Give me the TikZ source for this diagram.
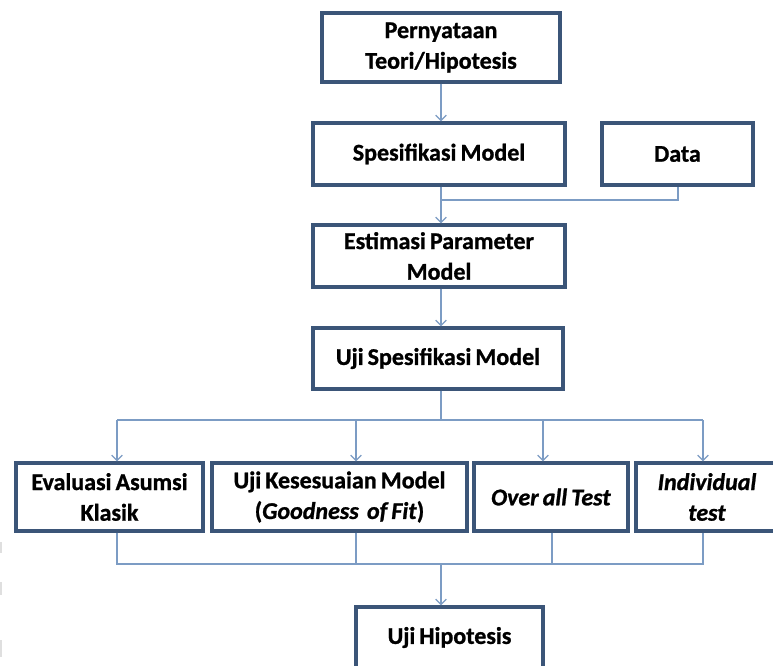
\documentclass[tikz,border=0pt]{standalone}
\usepackage{fontspec}
\setmainfont[WordSpace=0.75,BoldFeatures={FakeBold=1},BoldItalicFeatures={FakeBold=1}]{Carlito}
\usetikzlibrary{arrows.meta}
\definecolor{boxline}{HTML}{3B5578}
\definecolor{connc}{HTML}{7C9CC4}
\begin{document}
\begin{tikzpicture}[x=0.75pt,y=-0.75pt,
  box/.style={draw=boxline, line width=2.4pt, fill=white, align=center,
    font=\fontsize{18}{23}\selectfont\bfseries, inner sep=0pt},
  conn/.style={draw=connc, line width=1pt},
  arr/.style={conn, -{Straight Barb[length=4pt,width=8pt]}}]
\useasboundingbox (0,0) rectangle (773,666);
\fill[white] (0,0) rectangle (773,666);
\clip (0,0) rectangle (773,666);
% faint marks on left edge
\fill[gray!25] (0,542) rectangle (2,553);
\fill[gray!25] (0,582) rectangle (2,595);
\fill[gray!25] (0,640) rectangle (2,657);
% boxes
\node[box, minimum width=178.5pt, minimum height=51.75pt] (p1) at (441,47.5) {Pernyataan\\Teori/Hipotesis};
\node[box, minimum width=189pt, minimum height=46.5pt] (spec) at (439,154) {Spesifikasi Model};
\node[box, minimum width=113.25pt, minimum height=46.5pt] (data) at (677.5,154) {Data};
\node[box, minimum width=189pt, minimum height=46.5pt] (est) at (439,256) {Estimasi Parameter\\Model};
\node[box, minimum width=187.5pt, minimum height=45.75pt] (ujis) at (438,358.5) {Uji Spesifikasi Model};
\node[box, minimum width=140.25pt, minimum height=51pt] (eval) at (109.5,497) {Evaluasi Asumsi\\Klasik};
\node[box, minimum width=191.25pt, minimum height=51pt] (kes) at (339.5,497) {Uji Kesesuaian Model\\(\textit{Goodness}\ \ \textit{of Fit})};
\node[box, minimum width=115.5pt, minimum height=51pt] (over) at (551,497) {\textit{Over all Test}};
\node[box, minimum width=106.5pt, minimum height=51pt] (indiv) at (707,497) {\textit{Individual}\\\textit{test}};
\node[box, minimum width=140.25pt, minimum height=45.75pt] (hip) at (449.5,637.5) {Uji Hipotesis};
% junction points
\coordinate (j1) at (441,200);
\coordinate (j1r) at (678,200);
\coordinate (j2) at (441,420);
\coordinate (j2l) at (117,420);
\coordinate (j2k) at (356,420);
\coordinate (j2o) at (543,420);
\coordinate (j2r) at (703,420);
\coordinate (j3) at (441,564);
\coordinate (j3l) at (117,564);
\coordinate (j3k) at (356,564);
\coordinate (j3o) at (552,564);
\coordinate (j3r) at (703,564);
% connectors
\draw[arr] (p1.south) -- (spec.north -| p1.south);
\draw[conn] (spec.south -| j1) -- (j1) -- (j1r) -- (data.south -| j1r);
\draw[arr] (j1) -- (est.north -| j1);
\draw[arr] (est.south -| j1) -- (ujis.north -| j1);
\draw[conn] (ujis.south -| j2) -- (j2);
\draw[conn] (j2l) -- (j2r);
\draw[arr] (j2l) -- (eval.north -| j2l);
\draw[arr] (j2k) -- (kes.north -| j2k);
\draw[arr] (j2o) -- (over.north -| j2o);
\draw[arr] (j2r) -- (indiv.north -| j2r);
\draw[conn] (eval.south -| j3l) -- (j3l) -- (j3r) -- (indiv.south -| j3r);
\draw[conn] (kes.south -| j3k) -- (j3k);
\draw[conn] (over.south -| j3o) -- (j3o);
\draw[arr] (j3) -- (hip.north -| j3);
\end{tikzpicture}
\end{document}
